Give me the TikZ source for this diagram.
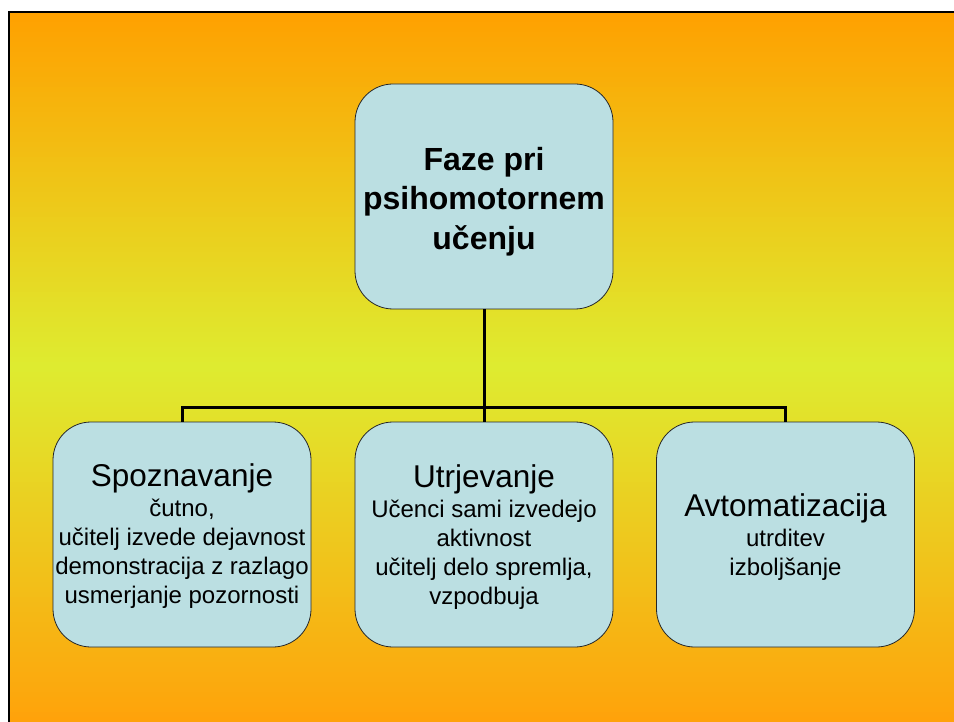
\documentclass[tikz,border=0pt]{standalone}
\usepackage{fontspec}
\setmainfont{Liberation Sans}
\definecolor{orTop}{RGB}{255,160,0}
\definecolor{ylMid}{RGB}{222,236,48}
\definecolor{orBot}{RGB}{255,162,10}
\definecolor{boxfill}{RGB}{187,223,226}
\begin{document}
\begin{tikzpicture}[x=1pt,y=-1pt,
  box/.style={draw=black!85, line width=0.8pt, fill=boxfill, rounded corners=38pt,
    minimum width=258pt, minimum height=225pt, inner sep=0pt},
  conn/.style={draw=black, line width=3pt},
  ttl/.style={font=\fontsize{32}{39.5}\selectfont\bfseries, align=center, inner sep=0pt},
  lbl/.style={font=\fontsize{24}{29}\selectfont, align=center, inner sep=0pt}]
\useasboundingbox (0,0) rectangle (954,722);
\fill[white] (0,0) rectangle (954,722);
\foreach \i in {0,...,141}{
  \pgfmathsetmacro{\ya}{12+5*\i}
  \pgfmathsetmacro{\tt}{(\i+0.5)/142}
  \pgfmathsetmacro{\p}{\tt<0.5 ? 200*\tt : 200*(1-\tt)}
  \ifnum\i<71 \colorlet{band}{ylMid!\p!orTop}\else\colorlet{band}{ylMid!\p!orBot}\fi
  \fill[band] (9,\ya) rectangle (954,\ya+6);
}
\draw[line width=2.5pt] (9,723) -- (9,12) -- (955,12);

\node[box] (top) at (484,196.5) {};
\node[box] (left) at (182,534.5) {};
\node[box] (mid) at (484,534.5) {};
\node[box] (right) at (785.5,534.5) {};

\coordinate (bus) at (484,407);
\draw[conn] (top.south) -- (top.south |- bus);
\draw[conn] (left.north) -- (left.north |- bus) -| (right.north);
\draw[conn] (mid.north) -- (mid.north |- bus);

\node[ttl] (toptext) at (484,201.5) {Faze pri\\psihomotornem\\učenju};
\node[lbl] (lefttext) at (182,536.4) {{\fontsize{31.5}{30}\selectfont Spoznavanje}\\[1pt]čutno,\\učitelj izvede dejavnost\\demonstracija z razlago\\usmerjanje pozornosti};
\node[lbl] (midtext) at (484,537.4) {{\fontsize{31.5}{30}\selectfont Utrjevanje}\\[1pt]Učenci sami izvedejo\\aktivnost\\učitelj delo spremlja,\\vzpodbuja};
\node[lbl] (righttext) at (785.5,537.2) {{\fontsize{31.5}{30}\selectfont Avtomatizacija}\\[1pt]utrditev\\izboljšanje};
\end{tikzpicture}
\end{document}
